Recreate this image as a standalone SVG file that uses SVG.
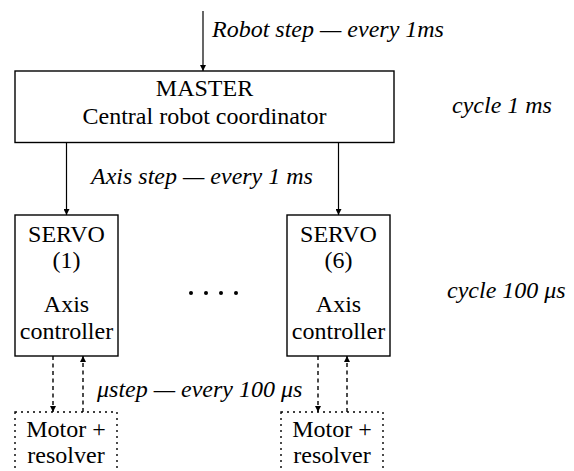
<svg xmlns="http://www.w3.org/2000/svg" width="574" height="471" viewBox="0 0 574 471">
<defs>
<style>
text{font-family:"Liberation Serif","Times New Roman",serif;font-size:24px;fill:#000}
.c{text-anchor:middle}
.i{font-style:italic}
.box{fill:#fff;stroke:#000;stroke-width:1.4}
.dot{fill:none;stroke:#000;stroke-width:1.4;stroke-dasharray:2 4}
.ln{stroke:#000;stroke-width:1.2;fill:none}
.dl{stroke:#000;stroke-width:1.4;fill:none;stroke-dasharray:4 3.5}
</style>
<marker id="ah" viewBox="0 0 10 10" refX="10" refY="5" markerWidth="6" markerHeight="6" markerUnits="userSpaceOnUse" orient="auto">
<path d="M0,0 L10,5 L0,10 z" fill="#000"/>
</marker>
</defs>
<g id="connectors">
<line class="ln" x1="203" y1="11" x2="203" y2="71" marker-end="url(#ah)"/>
<line class="ln" x1="66.5" y1="142.5" x2="66.5" y2="215" marker-end="url(#ah)"/>
<line class="ln" x1="338.5" y1="142.5" x2="338.5" y2="215" marker-end="url(#ah)"/>
<line class="dl" x1="53" y1="356" x2="53" y2="412" marker-end="url(#ah)"/>
<line class="dl" x1="83" y1="412" x2="83" y2="356" marker-end="url(#ah)"/>
<line class="dl" x1="318" y1="356" x2="318" y2="412" marker-end="url(#ah)"/>
<line class="dl" x1="347" y1="412" x2="347" y2="356" marker-end="url(#ah)"/>
<text class="i" x="212" y="37">Robot step — every 1ms</text>
<text class="i" x="91" y="184">Axis step — every 1 ms</text>
<text class="i" x="97" y="397">μstep — every 100 μs</text>
</g>
<g id="master">
<rect class="box" x="15" y="71" width="379" height="71.5"/>
<text class="c" x="204.5" y="96">MASTER</text>
<text class="c" x="204.5" y="124">Central robot coordinator</text>
</g>
<g id="servo1">
<rect class="box" x="15" y="215" width="103" height="141"/>
<text class="c" x="66.5" y="242">SERVO</text>
<text class="c" x="66.5" y="268">(1)</text>
<text class="c" x="66.5" y="312">Axis</text>
<text class="c" x="66.5" y="339">controller</text>
</g>
<g id="servo6">
<rect class="box" x="287" y="215" width="103" height="141"/>
<text class="c" x="338.5" y="242">SERVO</text>
<text class="c" x="338.5" y="268">(6)</text>
<text class="c" x="338.5" y="312">Axis</text>
<text class="c" x="338.5" y="339">controller</text>
</g>
<g id="ellipsis">
<circle cx="191" cy="293" r="2"/>
<circle cx="206" cy="293" r="2"/>
<circle cx="221" cy="293" r="2"/>
<circle cx="236" cy="293" r="2"/>
</g>
<g id="motor1">
<rect class="dot" x="15" y="412" width="102" height="70"/>
<text class="c" x="66" y="437">Motor +</text>
<text class="c" x="66" y="463">resolver</text>
</g>
<g id="motor6">
<rect class="dot" x="281" y="412" width="102" height="70"/>
<text class="c" x="332" y="437">Motor +</text>
<text class="c" x="332" y="463">resolver</text>
</g>
<g id="cycles">
<text class="i" x="452" y="113">cycle 1 ms</text>
<text class="i" x="447" y="298">cycle 100 μs</text>
</g>
</svg>
